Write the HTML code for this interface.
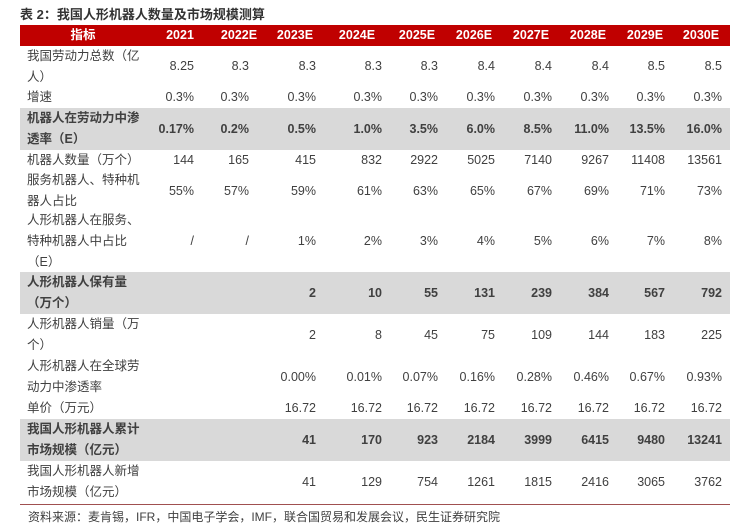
<!DOCTYPE html>
<html><head><meta charset="utf-8"><style>
body{margin:0;width:747px;height:528px;background:#fff;position:relative;overflow:hidden;font-family:"Liberation Sans","Noto Sans CJK SC",sans-serif;color:#404040;font-size:12.5px}
.t{position:absolute;left:20px;top:4px;font-weight:bold;font-size:13px;color:#333}
.r{position:absolute;left:20px;width:710px}
.g{background:#d9d9d9}
.h{background:#c00000;color:#fff;font-weight:bold}
.l{position:absolute;left:7px;width:120px;line-height:21px}
.c{position:absolute;width:60px;text-align:right}
.b{font-weight:bold}
.src{position:absolute;left:28px;top:508px;font-size:12px;color:#404040}
.line{position:absolute;left:20px;top:504px;width:710px;height:1px;background:#a05050}
</style></head><body>
<div class="t">表 2：我国人形机器人数量及市场规模测算</div>
<div id="tb"></div>
<div class="line"></div>
<div class="src">资料来源：麦肯锡，IFR，中国电子学会，IMF，联合国贸易和发展会议，民生证券研究院</div>
<script>
var R=[194,249,316,382,438,495,552,609,665,722];
var rows=[
["h",25,21,["指标"],["2021","2022E","2023E","2024E","2025E","2026E","2027E","2028E","2029E","2030E"]],
["",46,41,["我国劳动力总数（亿","人）"],["8.25","8.3","8.3","8.3","8.3","8.4","8.4","8.4","8.5","8.5"]],
["",87,21,["增速"],["0.3%","0.3%","0.3%","0.3%","0.3%","0.3%","0.3%","0.3%","0.3%","0.3%"]],
["g b",108,42,["机器人在劳动力中渗","透率（E）"],["0.17%","0.2%","0.5%","1.0%","3.5%","6.0%","8.5%","11.0%","13.5%","16.0%"]],
["",150,21,["机器人数量（万个）"],["144","165","415","832","2922","5025","7140","9267","11408","13561"]],
["",171,40,["服务机器人、特种机","器人占比"],["55%","57%","59%","61%","63%","65%","67%","69%","71%","73%"]],
["",211,61,["人形机器人在服务、","特种机器人中占比","（E）"],["/","/","1%","2%","3%","4%","5%","6%","7%","8%"]],
["g b",272,42,["人形机器人保有量","（万个）"],["","","2","10","55","131","239","384","567","792"]],
["",314,42,["人形机器人销量（万","个）"],["","","2","8","45","75","109","144","183","225"]],
["",356,42,["人形机器人在全球劳","动力中渗透率"],["","","0.00%","0.01%","0.07%","0.16%","0.28%","0.46%","0.67%","0.93%"]],
["",398,21,["单价（万元）"],["","","16.72","16.72","16.72","16.72","16.72","16.72","16.72","16.72"]],
["g b",419,42,["我国人形机器人累计","市场规模（亿元）"],["","","41","170","923","2184","3999","6415","9480","13241"]],
["",461,42,["我国人形机器人新增","市场规模（亿元）"],["","","41","129","754","1261","1815","2416","3065","3762"]]
];
var h="";
rows.forEach(function(r,i){
 var cls=r[0],top=r[1],ht=r[2];
 h+='<div class="r '+cls+'" style="top:'+top+'px;height:'+ht+'px">';
 var lt=(ht-r[3].length*21)/2;
 if(i==0) h+='<div class="l" style="top:0;left:0;width:126px;text-align:center">'+r[3][0]+'</div>';
 else h+='<div class="l" style="top:'+lt+'px">'+r[3].join('<br>')+'</div>';
 r[4].forEach(function(v,j){
  if(i==0){var cx=[180,239,295,357,417,474,531,588,645,701][j]-20;h+='<div class="c" style="left:'+(cx-30)+'px;text-align:center;line-height:21px">'+v+'</div>';}
  else h+='<div class="c" style="left:'+(R[j]-20-60)+'px;top:0;line-height:'+ht+'px">'+v+'</div>';
 });
 h+='</div>';
});
document.getElementById('tb').innerHTML=h;
</script>
</body></html>
